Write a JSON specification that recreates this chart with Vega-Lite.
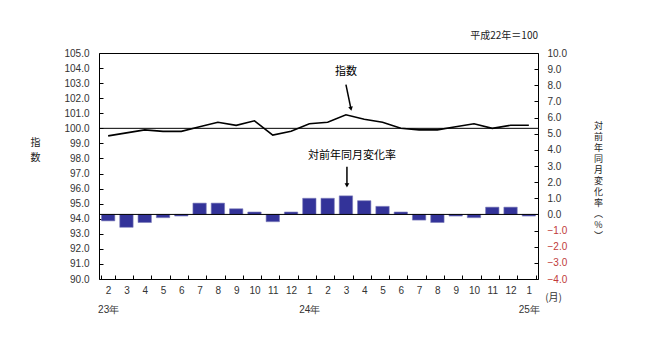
{
  "$schema": "https://vega.github.io/schema/vega-lite/v6.json",
  "width": 439,
  "height": 226,
  "autosize": "none",
  "padding": {"left": 99, "top": 53, "right": 112, "bottom": 74},
  "background": "white",
  "config": {
    "view": {"stroke": "#000", "strokeWidth": 1},
    "font": "Liberation Sans",
    "axis": {"grid": false, "domain": false, "labelFont": "Liberation Sans", "labelFontSize": 10, "labelColor": "#333", "tickColor": "#000", "labelOverlap": false, "ticks": true, "tickSize": 4, "offset": -4}
  },
  "title": {"text": "平成22年＝100", "anchor": "end", "frame": "group", "font": "Noto Sans CJK JP", "fontSize": 10, "fontWeight": "normal", "color": "#222", "offset": 7},
  "datasets": {
    "main": [
      {"key": "23-2", "idx": 99.5, "chg": -0.4},
      {"key": "23-3", "idx": 99.7, "chg": -0.8},
      {"key": "23-4", "idx": 99.9, "chg": -0.5},
      {"key": "23-5", "idx": 99.8, "chg": -0.2},
      {"key": "23-6", "idx": 99.8, "chg": -0.1},
      {"key": "23-7", "idx": 100.1, "chg": 0.7},
      {"key": "23-8", "idx": 100.4, "chg": 0.7},
      {"key": "23-9", "idx": 100.2, "chg": 0.35},
      {"key": "23-10", "idx": 100.5, "chg": 0.15},
      {"key": "23-11", "idx": 99.55, "chg": -0.45},
      {"key": "23-12", "idx": 99.8, "chg": 0.15},
      {"key": "24-1", "idx": 100.3, "chg": 1.0},
      {"key": "24-2", "idx": 100.4, "chg": 1.0},
      {"key": "24-3", "idx": 100.9, "chg": 1.15},
      {"key": "24-4", "idx": 100.6, "chg": 0.85},
      {"key": "24-5", "idx": 100.4, "chg": 0.5},
      {"key": "24-6", "idx": 100.0, "chg": 0.15},
      {"key": "24-7", "idx": 99.9, "chg": -0.35},
      {"key": "24-8", "idx": 99.9, "chg": -0.5},
      {"key": "24-9", "idx": 100.1, "chg": -0.1},
      {"key": "24-10", "idx": 100.3, "chg": -0.2},
      {"key": "24-11", "idx": 100.0, "chg": 0.45},
      {"key": "24-12", "idx": 100.2, "chg": 0.45},
      {"key": "25-1", "idx": 100.2, "chg": -0.1}
    ],
    "ann1": [{"key": "24-3", "label": "指数", "ty": 103.75, "a1": 102.9, "a2": 101.3, "base": 100}],
    "ann2": [{"key": "24-3", "label": "対前年同月変化率", "ty": 3.65, "a1": 2.95, "a2": 1.8, "base": 0}]
  },
  "encoding": {
    "x": {
      "field": "key", "type": "ordinal", "sort": null,
      "scale": {"paddingInner": 0.27, "paddingOuter": 0.135},
      "axis": {
        "labelAngle": 0, "tickBand": "extent", "labelPadding": 6,
        "labelLineHeight": 19,
        "labelExpr": "datum.value=='23-2' ? ['2','23年'] : datum.value=='24-1' ? ['1','24年'] : datum.value=='25-1' ? ['1','25年'] : split(datum.value,'-')[1]",
        "title": "(月)", "titleFont": "Noto Sans CJK JP", "titleFontSize": 10, "titleFontWeight": "normal", "titleColor": "#333",
        "titleX": 454, "titleY": 22, "titleAlign": "center", "titleBaseline": "middle"
      }
    }
  },
  "layer": [
    {
      "layer": [
        {
          "data": {"name": "main"},
          "mark": {"type": "line", "color": "#000", "strokeWidth": 1.6},
          "encoding": {
            "y": {"field": "idx", "type": "quantitative", "scale": {"domain": [90, 105], "nice": false, "zero": false},
              "axis": {
                "orient": "left", "tickCount": 15, "format": ".1f", "labelPadding": 10,
                "title": ["指", "", "", "", "数"], "titleFont": "Noto Sans CJK JP", "titleFontSize": 10, "titleFontWeight": "normal", "titleColor": "#222",
                "titleAngle": 0, "titleX": -68, "titleY": 84, "titleAlign": "center", "titleBaseline": "top", "titleLineHeight": 15
              }
            }
          }
        },
        {
          "data": {"name": "ann1"},
          "mark": {"type": "rule", "color": "#000", "strokeWidth": 1},
          "encoding": {"y": {"field": "base", "type": "quantitative"}, "x": null}
        },
        {
          "data": {"name": "ann1"},
          "mark": {"type": "text", "font": "Noto Sans CJK JP", "fontSize": 11, "color": "#000"},
          "encoding": {"y": {"field": "ty", "type": "quantitative"}, "text": {"field": "label"}}
        },
        {
          "data": {"name": "ann1"},
          "mark": {"type": "rule", "color": "#000", "strokeWidth": 1.5, "x2Offset": 5},
          "encoding": {"y": {"field": "a1", "type": "quantitative"}, "y2": {"field": "a2"}, "x2": {"field": "key"}}
        },
        {
          "data": {"name": "ann1"},
          "mark": {"type": "point", "shape": "triangle-down", "filled": true, "color": "#000", "size": 22, "opacity": 1, "xOffset": 5, "angle": -12},
          "encoding": {"y": {"field": "a2", "type": "quantitative"}}
        }
      ]
    },
    {
      "layer": [
        {
          "data": {"name": "main"},
          "mark": {"type": "bar", "color": "#333399", "stroke": "#7a7ab8", "strokeWidth": 0.6},
          "encoding": {
            "y": {"field": "chg", "type": "quantitative", "scale": {"domain": [-4, 10], "nice": false},
              "axis": {
                "orient": "right", "tickCount": 14, "format": ".1f", "labelPadding": 9,
                "labelColor": {"expr": "datum.value < 0 ? '#c03a3a' : '#333'"},
                "title": ["対","前","年","同","月","変","化","率","︵","%","︶"], "titleFont": "Noto Sans CJK JP", "titleFontSize": 9, "titleFontWeight": "normal", "titleColor": "#222",
                "titleAngle": 0, "titleX": 64, "titleY": 68, "titleAlign": "center", "titleBaseline": "top", "titleLineHeight": 11
              }
            }
          }
        },
        {
          "data": {"name": "ann2"},
          "mark": {"type": "rule", "color": "#000", "strokeWidth": 1},
          "encoding": {"y": {"field": "base", "type": "quantitative"}, "x": null}
        },
        {
          "data": {"name": "ann2"},
          "mark": {"type": "text", "font": "Noto Sans CJK JP", "fontSize": 11, "color": "#000", "dx": 6},
          "encoding": {"y": {"field": "ty", "type": "quantitative"}, "text": {"field": "label"}}
        },
        {
          "data": {"name": "ann2"},
          "mark": {"type": "rule", "color": "#000", "strokeWidth": 1.5, "xOffset": 1, "x2Offset": 1},
          "encoding": {"y": {"field": "a1", "type": "quantitative"}, "y2": {"field": "a2"}}
        },
        {
          "data": {"name": "ann2"},
          "mark": {"type": "point", "shape": "triangle-down", "filled": true, "color": "#000", "size": 22, "opacity": 1, "xOffset": 1},
          "encoding": {"y": {"field": "a2", "type": "quantitative"}}
        }
      ]
    }
  ],
  "resolve": {"scale": {"y": "independent"}}
}
